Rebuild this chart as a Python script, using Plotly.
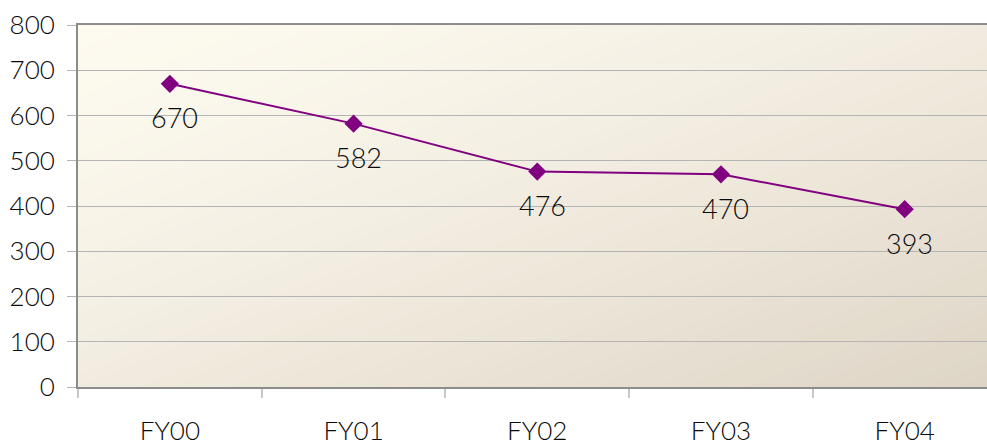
import plotly.graph_objects as go

categories = ["FY00", "FY01", "FY02", "FY03", "FY04"]
values = [670, 582, 476, 470, 393]
labels = ["670", "582", "476", "470", "393"]
y_ticks = [0, 100, 200, 300, 400, 500, 600, 700, 800]

FONT = "Lato"
TEXT = "#0a0a0a"

fig = go.Figure()
fig.add_trace(go.Scatter(
    x=categories, y=values, mode="lines+markers",
    line=dict(color="#800080", width=2),
    marker=dict(symbol="diamond", size=14, color="#800080"),
    cliponaxis=False, showlegend=False,
))

annotations = [
    dict(x=c, y=v, text=t, showarrow=False, xref="x", yref="y",
         yanchor="middle", xanchor="center", yshift=-34, xshift=5,
         font=dict(family=FONT, size=27, color=TEXT, weight=300))
    for c, v, t in zip(categories, values, labels)
]

# diagonal gradient background via stacked clipped polygons
def clip(poly, s):
    out = []
    n = len(poly)
    for i in range(n):
        p, q = poly[i], poly[(i + 1) % n]
        fp, fq = p[0] - p[1] - s, q[0] - q[1] - s
        if fp <= 0:
            out.append(p)
        if (fp < 0) != (fq < 0) and fp != fq:
            t = fp / (fp - fq)
            out.append((p[0] + t * (q[0] - p[0]), p[1] + t * (q[1] - p[1])))
    return out

c0 = (253, 250, 239)
c1 = (222, 213, 198)
N = 60
square = [(0, 0), (1, 0), (1, 1), (0, 1)]
shapes = []
for k in range(N, 0, -1):
    t = k / N
    s = 2 * t - 1
    poly = clip(square, s) if k < N else square
    if len(poly) < 3:
        continue
    tt = t ** 1.4
    col = tuple(round(c0[i] + (c1[i] - c0[i]) * tt) for i in range(3))
    path = "M " + " L ".join(f"{x:.4f},{y:.4f}" for x, y in poly) + " Z"
    shapes.append(dict(type="path", path=path, xref="x domain", yref="y domain",
                       fillcolor=f"rgb{col}", line=dict(width=0), layer="below"))

tickfont = dict(family=FONT, size=26, color=TEXT, weight=300)

fig.update_layout(
    width=987, height=447,
    margin=dict(l=78, r=0, t=25, b=60),
    paper_bgcolor="white", plot_bgcolor="rgba(0,0,0,0)",
    shapes=shapes, annotations=annotations,
    font=dict(family=FONT, size=26, color=TEXT),
    xaxis=dict(
        type="category", range=[-0.5, 4.448],
        showgrid=False, showline=True, linecolor="#8c8c8c", linewidth=2,
        mirror=True, ticks="outside", tickson="boundaries", ticklen=9,
        tickcolor="#c8c8c8", tickwidth=2, ticklabelstandoff=20,
        tickfont=tickfont,
    ),
    yaxis=dict(
        range=[0, 800], tickvals=y_ticks, showgrid=True, gridcolor="#b4b4b4",
        gridwidth=1, showline=True, linecolor="#8c8c8c", linewidth=2,
        ticks="outside", ticklen=9, tickcolor="#b4b4b4", tickwidth=1,
        ticklabelstandoff=7, zeroline=False,
        tickfont=tickfont,
    ),
)

fig.write_html("out.html")
